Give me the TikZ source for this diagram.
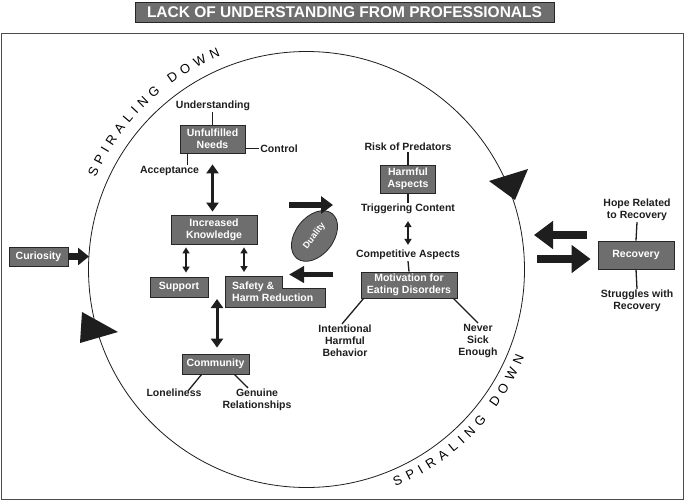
\documentclass[tikz,border=0pt]{standalone}
\usepackage{fontspec}
\setmainfont{Liberation Sans}
\usetikzlibrary{arrows.meta,shapes.geometric,decorations.text,calc}
\definecolor{boxgray}{HTML}{6E6E6E}
\definecolor{ink}{HTML}{1E1E1E}
\begin{document}
\begin{tikzpicture}[x=1pt,y=1pt,
  box/.style={draw=black!85, fill=boxgray, text=white, font=\bfseries\fontsize{10.5}{12}\selectfont, align=center, inner sep=0pt, line width=0.8pt},
  lbl/.style={text=ink, font=\bfseries\fontsize{10.5}{12}\selectfont, align=center, inner sep=1pt},
  conn/.style={draw=ink, line width=1.3pt},
  fat/.style n args={3}{draw=ink, line width=#1, -{Triangle[length=#2,width=#3]}},
  dblthick/.style={draw=ink, line width=3pt, {Triangle[length=9pt,width=12pt]}-{Triangle[length=9pt,width=12pt]}},
  dblthin/.style={draw=ink, line width=1.5pt, {Triangle[length=6pt,width=7pt]}-{Triangle[length=6pt,width=7pt]}},
  spiral/.style={decorate, decoration={text along path, text={|\fontsize{13}{15}\selectfont|SPIRALING DOWN}, text align={fit to path}, raise=#1}}
]
\useasboundingbox (0,0) rectangle (685,-501);
\fill[white] (0,0) rectangle (685,-501);

% outer frame and title
\draw[black!70, line width=1pt] (1.5,-33) rectangle (683.5,-499.5);
\node[box, minimum width=419pt, minimum height=20pt, font=\bfseries\fontsize{15.5}{17}\selectfont] (title) at (344.5,-12) {LACK OF UNDERSTANDING FROM PROFESSIONALS};

% circle
\coordinate (O) at (306.5,-269.5);
\draw[ink, line width=0.8pt] (O) circle[radius=218];
\path[spiral=12pt] ($(O)+(156.5:218)$) arc[start angle=156.5, end angle=111.9, radius=218];
\path[spiral=-16.5pt] ($(O)+(-67.8:218)$) arc[start angle=-67.8, end angle=-21.7, radius=218];
\fill[ink] (82,-312) -- (118,-332) -- (80,-343) -- cycle;
\fill[ink] (489,-181) -- (528,-169) -- (515,-200) -- cycle;

% boxes
\node[box, minimum width=59pt, minimum height=19pt] (cur) at (38.5,-256.5) {Curiosity};
\node[box, minimum width=65pt, minimum height=28pt] (un) at (212.5,-139) {Unfulfilled\\Needs};
\node[box, minimum width=86pt, minimum height=29pt] (ik) at (214,-229.5) {Increased\\Knowledge};
\node[box, minimum width=58pt, minimum height=20pt] (sup) at (179,-287) {Support};
\node[box, minimum width=67pt, minimum height=20pt] (com) at (215.5,-364) {Community};
\node[box, minimum width=55pt, minimum height=28pt] (ha) at (408,-179) {Harmful\\Aspects};
\node[box, minimum width=96pt, minimum height=26pt] (mot) at (409,-285) {Motivation for\\Eating Disorders};
\node[box, minimum width=76pt, minimum height=28pt] (rec) at (636,-255) {Recovery};

% safety & harm reduction (notched box)
\coordinate (s1) at (225,-276);
\coordinate (s2) at (282,-276);
\coordinate (s3) at (282,-288);
\coordinate (s4) at (325,-288);
\coordinate (s5) at (325,-307);
\coordinate (s6) at (225,-307);
\filldraw[draw=black!85, fill=boxgray, line width=0.8pt] (s1) -- (s2) -- (s3) -- (s4) -- (s5) -- (s6) -- cycle;
\node[anchor=west, text=white, font=\bfseries\fontsize{10.5}{12}\selectfont, align=left, inner sep=0pt] (saf) at (232,-292) {Safety \&\\Harm Reduction};

% duality
\node[ellipse, draw=black!85, fill=boxgray, line width=0.8pt, minimum width=57pt, minimum height=38pt, rotate=52, text=white, font=\bfseries\fontsize{9}{10}\selectfont, inner sep=0pt] (dual) at (314.5,-236) {Duality};

% labels
\node[lbl] (und) at (213,-106) {Understanding};
\node[lbl] (ctl) at (279,-148.5) {Control};
\node[lbl] (acc) at (169.5,-171) {Acceptance};
\node[lbl] (rp) at (408,-147) {Risk of Predators};
\node[lbl] (tc) at (408,-209) {Triggering Content};
\node[lbl] (ca) at (408,-255) {Competitive Aspects};
\node[lbl] (ihb) at (345,-341) {Intentional\\Harmful\\Behavior};
\node[lbl] (nse) at (478,-341) {Never\\Sick\\Enough};
\node[lbl] (lon) at (174,-393) {Loneliness};
\node[lbl] (gr) at (257,-400) {Genuine\\Relationships};
\node[lbl] (hope) at (637,-210) {Hope Related\\to Recovery};
\node[lbl] (str) at (637,-301) {Struggles with\\Recovery};

% label connectors
\draw[conn] (un.north) -- (un.north |- und.south);
\draw[conn] (ctl.west) -- (ctl.west -| un.east);
\coordinate (a1) at ([xshift=8pt]un.south west);
\draw[conn] (a1) -- (a1 |- acc.north);
\draw[conn] ([xshift=20pt]com.south west) -- ([xshift=14pt,yshift=-3pt]lon.north);
\draw[conn] ([xshift=-15pt]com.south east) -- ([xshift=-9pt]gr.north);
\draw[conn] (rp.south) -- (ha.north);
\draw[conn] (ha.south) -- (tc.north);
\draw[conn] (ca.south) -- (mot.north);
\draw[conn] ([xshift=3pt]mot.south west) -- ([xshift=-3pt]ihb.north);
\draw[conn] ([xshift=-4pt]mot.south east) -- (nse.north);
\draw[conn] (hope.south) -- (rec.north);
\draw[conn] (rec.south) -- (str.north);

% double arrows
\draw[dblthick, shorten <=11pt, shorten >=3pt] (un.south) -- (un.south |- ik.north);
\coordinate (t1) at ([xshift=7pt]sup.north);
\draw[dblthin, shorten <=3pt, shorten >=4pt] (t1 |- ik.south) -- (t1);
\coordinate (t2) at ([xshift=19pt]s1);
\draw[dblthin, shorten <=3pt, shorten >=4pt] (t2 |- ik.south) -- (t2);
\coordinate (t3) at ([xshift=1.5pt]com.north);
\draw[dblthick, shorten <=6pt, shorten >=11pt] (t3) -- (t3 |- s3);
\draw[dblthin, shorten <=6pt, shorten >=4pt] (tc.south) -- (ca.north);

% fat arrows
\coordinate (cl) at (89,-256.5);
\draw[fat={6.5pt}{11pt}{17pt}] (cur.east) -- (cl);
\coordinate (m1) at (289,-205);
\coordinate (m2) at (333,-205);
\draw[fat={5.5pt}{12pt}{17pt}] (m1) -- (m2);
\coordinate (m3) at (333,-274.5);
\coordinate (m4) at (289,-274.5);
\draw[fat={5.5pt}{15pt}{16pt}] (m3) -- (m4);
\coordinate (r1) at (587,-235);
\coordinate (r2) at (534,-235);
\draw[fat={7.5pt}{19pt}{27pt}] (r1) -- (r2);
\coordinate (r3) at (537,-259);
\draw[fat={7.5pt}{19pt}{27pt}, shorten >=7pt] (r3) -- (r3 -| rec.west);
\end{tikzpicture}
\end{document}
